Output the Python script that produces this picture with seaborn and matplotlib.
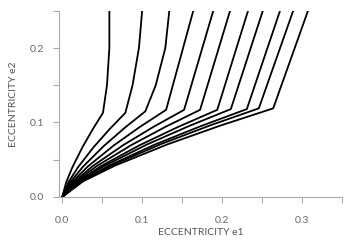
import pandas as pd
import matplotlib
matplotlib.use("Agg")
import matplotlib.pyplot as plt
import seaborn as sns
from matplotlib.ticker import MultipleLocator

# e1 / e2 values (origin -> knee -> top)
e1_curves = [
    [0, 0.0051, 0.0128, 0.0255, 0.0383, 0.051, 0.056, 0.059, 0.059],
    [0, 0.0079, 0.0198, 0.0395, 0.0593, 0.079, 0.088, 0.096, 0.100],
    [0, 0.0104, 0.026, 0.052, 0.078, 0.104, 0.117, 0.129, 0.134],
    [0, 0.013, 0.0325, 0.065, 0.0975, 0.130, 0.164],
    [0, 0.0153, 0.0381, 0.0763, 0.1144, 0.1525, 0.189],
    [0, 0.0173, 0.0431, 0.0863, 0.1294, 0.1725, 0.210],
    [0, 0.0194, 0.0485, 0.097, 0.1455, 0.194, 0.2325],
    [0, 0.0211, 0.0528, 0.1055, 0.1583, 0.211, 0.251],
    [0, 0.0231, 0.0578, 0.1155, 0.1733, 0.231, 0.2725],
    [0, 0.0246, 0.0615, 0.123, 0.1845, 0.246, 0.289],
    [0, 0.0264, 0.066, 0.132, 0.198, 0.264, 0.3075],
]
e2_curves = [
    [0, 0.0201, 0.0400, 0.0672, 0.0911, 0.113, 0.15, 0.2, 0.25],
    [0, 0.0201, 0.0400, 0.0672, 0.0911, 0.113, 0.15, 0.2, 0.25],
    [0, 0.0204, 0.0407, 0.0684, 0.0927, 0.115, 0.15, 0.2, 0.25],
    [0, 0.0208, 0.0414, 0.0696, 0.0943, 0.117, 0.25],
    [0, 0.0208, 0.0414, 0.0696, 0.0943, 0.117, 0.25],
    [0, 0.0208, 0.0414, 0.0696, 0.0943, 0.117, 0.25],
    [0, 0.0208, 0.0414, 0.0696, 0.0943, 0.117, 0.25],
    [0, 0.0210, 0.0417, 0.0702, 0.0951, 0.118, 0.25],
    [0, 0.0210, 0.0417, 0.0702, 0.0951, 0.118, 0.25],
    [0, 0.0212, 0.0421, 0.0708, 0.0959, 0.119, 0.25],
    [0, 0.0212, 0.0421, 0.0708, 0.0959, 0.119, 0.25],
]

rows = []
for i, (xs, ys) in enumerate(zip(e1_curves, e2_curves)):
    for j, (x, y) in enumerate(zip(xs, ys)):
        rows.append({"curve": i, "order": j, "e1": x, "e2": y})
df = pd.DataFrame(rows)

sns.set_style("white")
plt.rcParams["font.family"] = ["Lato", "DejaVu Sans"]

fig = plt.figure(figsize=(3.5, 2.45), dpi=100)
ax = fig.add_axes([0.1686, 0.196, 0.8084, 0.76])

sns.lineplot(data=df, x="e1", y="e2", units="curve", estimator=None,
             sort=False, color="black", linewidth=1.3, ax=ax, legend=False)

ax.set_xlim(-0.004, 0.35)
ax.set_ylim(0, 0.25)
ax.xaxis.set_major_locator(MultipleLocator(0.1))
ax.xaxis.set_minor_locator(MultipleLocator(0.05))
ax.yaxis.set_major_locator(MultipleLocator(0.1))
ax.yaxis.set_minor_locator(MultipleLocator(0.05))
ax.xaxis.set_major_formatter(lambda v, p: f"{v:.1f}")
ax.yaxis.set_major_formatter(lambda v, p: f"{v:.1f}")

gray = "#aaaaaa"
for side in ["top", "right"]:
    ax.spines[side].set_visible(False)
for side in ["left", "bottom"]:
    ax.spines[side].set_color(gray)
    ax.spines[side].set_linewidth(0.8)

ax.tick_params(which="both", direction="out", length=4, width=0.8,
               color=gray, labelcolor="#666666", labelsize=7.5)
ax.tick_params(axis="x", which="both", bottom=True, pad=10)
ax.tick_params(axis="y", which="both", left=True, pad=7)

ax.set_xlabel("ECCENTRICITY e1", fontsize=7.5, color="#555555", labelpad=2)
ax.set_ylabel("ECCENTRICITY e2", fontsize=7.5, color="#555555", labelpad=8)

fig.savefig("out.png", dpi=100)
